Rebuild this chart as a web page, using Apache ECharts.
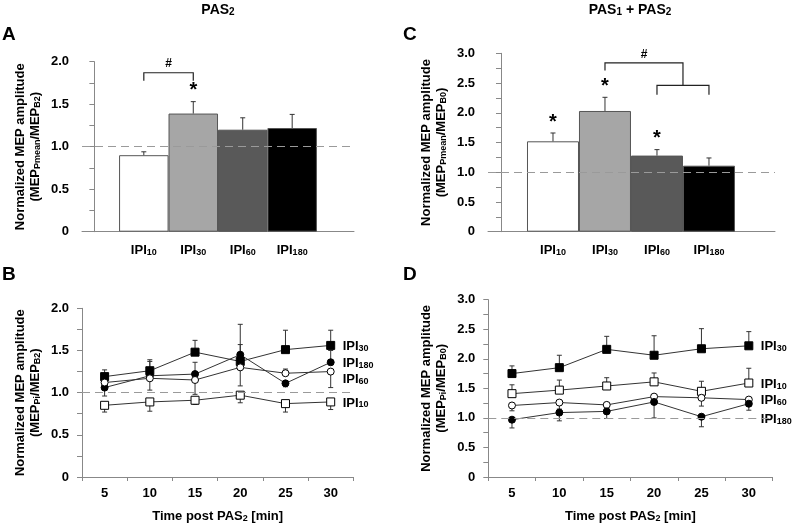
<!DOCTYPE html>
<html>
<head>
<meta charset="utf-8">
<script src="https://cdn.jsdelivr.net/npm/echarts@6/dist/echarts.min.js"></script>
<style>
  html, body { margin: 0; padding: 0; background: #fff; }
  #chart { width: 797px; height: 524px; }
</style>
</head>
<body>
<div id="chart"></div>
<script>
// bar panels (A: PAS2, C: PAS1 + PAS2)
const categories = ['IPI10', 'IPI30', 'IPI60', 'IPI180'];
const pas2Mean = [0.90, 1.39, 1.20, 1.22];
const pas2ErrTop = [0.94, 1.53, 1.34, 1.38];
const pas12Mean = [1.52, 2.03, 1.28, 1.11];
const pas12ErrTop = [1.66, 2.26, 1.38, 1.24];
const starsA = ['IPI30'];
const starsC = ['IPI10', 'IPI30', 'IPI60'];

// time course panels (B: PAS2, D: PAS1 + PAS2)
const times = ['5', '10', '15', '20', '25', '30'];
const bIPI30 = [1.19, 1.26, 1.48, 1.37, 1.51, 1.56];
const bIPI30Err = [1.27, 1.39, 1.62, 1.57, 1.74, 1.74];
const bIPI180 = [1.06, 1.20, 1.22, 1.45, 1.11, 1.36];
const bIPI180Err = [0.96, 1.37, 1.36, 1.81, 1.07, 1.50];
const bIPI60 = [1.12, 1.17, 1.15, 1.30, 1.23, 1.25];
const bIPI60Err = [1.12, 1.03, 0.98, 1.08, 1.28, 1.06];
const bIPI10 = [0.85, 0.89, 0.91, 0.97, 0.87, 0.89];
const bIPI10Err = [0.77, 0.78, 0.86, 0.88, 0.77, 0.80];

const dIPI30 = [1.75, 1.85, 2.16, 2.06, 2.17, 2.22];
const dIPI30Err = [1.88, 2.06, 2.38, 2.39, 2.51, 2.46];
const dIPI10 = [1.41, 1.47, 1.54, 1.61, 1.45, 1.59];
const dIPI10Err = [1.56, 1.64, 1.68, 1.76, 1.62, 1.84];
const dIPI60 = [1.21, 1.26, 1.22, 1.36, 1.34, 1.31];
const dIPI60Err = [1.12, 1.15, 1.17, 1.36, 1.20, 1.31];
const dIPI180 = [0.97, 1.09, 1.11, 1.27, 1.02, 1.24];
const dIPI180Err = [0.83, 0.95, 0.99, 1.00, 0.85, 1.13];

// significance brackets: [x1, x2, yBar, yLeg1, yLeg2] and '#' marks [x, y]
const bracketsA = [[1, 2, 1.87, 1.775, 1.775]];
const hashA = [[1.5, 1.98]];
const bracketsC = [[2, 3.5, 2.84, 2.71, 2.46], [3, 4, 2.46, 2.305, 2.305]];
const hashC = [[2.75, 2.98]];

const FONT = '"Liberation Sans", Arial, sans-serif';
const rich = {
  b: { fontFamily: FONT, fontWeight: 'bold', fontSize: 13, color: '#000', lineHeight: 15, verticalAlign: 'bottom' },
  s: { fontFamily: FONT, fontWeight: 'bold', fontSize: 9, color: '#000', lineHeight: 11, verticalAlign: 'bottom' }
};
const titleRich = {
  b: { fontFamily: FONT, fontWeight: 'bold', fontSize: 14, fill: '#000', lineHeight: 16, verticalAlign: 'bottom' },
  s: { fontFamily: FONT, fontWeight: 'bold', fontSize: 10, fill: '#000', lineHeight: 12, verticalAlign: 'bottom' }
};

function sub(name) {
  const m = name.match(/^(\D+)(\d+)$/);
  return '{b|' + m[1] + '}{s|' + m[2] + '}';
}

const axisColor = '#888';

function yAxis(gridIndex, max, denom) {
  return {
    type: 'value', gridIndex: gridIndex, min: 0, max: max, interval: 0.25,
    axisLine: { show: true, lineStyle: { color: axisColor } },
    axisTick: { show: true, length: 5, lineStyle: { color: axisColor } },
    splitLine: { show: false },
    axisLabel: {
      margin: 13, fontFamily: FONT, fontWeight: 'bold', fontSize: 13, color: '#000',
      formatter: function (v) {
        if (Math.abs(v * 2 - Math.round(v * 2)) > 1e-6) return '';
        return v === 0 ? '0' : v.toFixed(1);
      }
    },
    name: '{b|Normalized MEP amplitude}\n{b|(MEP}{s|' + denom[0] + '}{b|/MEP}{s|' + denom[1] + '}{b|)}',
    nameLocation: 'middle', nameRotate: 90, nameGap: 40,
    nameTextStyle: { rich: rich }
  };
}

function barXAxis(gridIndex, max) {
  return {
    type: 'value', gridIndex: gridIndex, min: -0.25, max: max,
    axisLine: { show: true, onZero: false, lineStyle: { color: axisColor } },
    axisTick: { show: false },
    splitLine: { show: false },
    axisLabel: {
      margin: 10, rich: rich,
      formatter: function (v) {
        const r = Math.round(v);
        if (Math.abs(v - r) > 1e-6 || r < 1 || r > categories.length) return '';
        return sub(categories[r - 1]);
      }
    }
  };
}

function timeXAxis(gridIndex) {
  return {
    type: 'category', gridIndex: gridIndex, data: times, boundaryGap: true,
    axisLine: { show: true, onZero: false, lineStyle: { color: axisColor } },
    axisTick: { show: true, length: 4, lineStyle: { color: axisColor } },
    splitLine: { show: false },
    axisLabel: { margin: 10, fontFamily: FONT, fontWeight: 'bold', fontSize: 13, color: '#000' },
    name: '{b|Time post PAS}{s|2}{b| [min]}',
    nameLocation: 'middle', nameGap: 31,
    nameTextStyle: { rich: rich }
  };
}

const dashLine = {
  silent: true, symbol: 'none', label: { show: false },
  lineStyle: { type: [8, 5], color: '#9a9a9a', width: 1 },
  data: [{ yAxis: 1 }]
};

function errRender(params, api) {
  const x = api.value(0);
  const p1 = api.coord([x, api.value(1)]);
  const p2 = api.coord([x, api.value(2)]);
  const style = { stroke: '#333', lineWidth: 1 };
  return {
    type: 'group',
    children: [
      { type: 'line', shape: { x1: p1[0], y1: p1[1], x2: p2[0], y2: p2[1] }, style: style },
      { type: 'line', shape: { x1: p2[0] - 2.5, y1: p2[1], x2: p2[0] + 2.5, y2: p2[1] }, style: style }
    ]
  };
}

function errSeries(xi, mean, top, xOf) {
  return {
    type: 'custom', xAxisIndex: xi, yAxisIndex: xi, z: 3, silent: true,
    renderItem: errRender,
    data: mean.map(function (v, i) { return [xOf(i), v, top[i]]; })
  };
}

function starSeries(xi, stars, top) {
  return {
    type: 'custom', xAxisIndex: xi, yAxisIndex: xi, z: 5, silent: true,
    renderItem: function (params, api) {
      const p = api.coord([api.value(0), api.value(1)]);
      return {
        type: 'text', x: p[0], y: p[1] - 11,
        style: { text: '*', font: 'bold 20px ' + FONT, fill: '#000', align: 'center', verticalAlign: 'middle' }
      };
    },
    data: stars.map(function (n) { const i = categories.indexOf(n); return [i + 1, top[i]]; })
  };
}

function bracketSeries(xi, brackets, hashes) {
  return [{
    type: 'custom', xAxisIndex: xi, yAxisIndex: xi, z: 5, silent: true,
    renderItem: function (params, api) {
      const a = api.coord([api.value(0), api.value(3)]);
      const b = api.coord([api.value(0), api.value(2)]);
      const c = api.coord([api.value(1), api.value(2)]);
      const d = api.coord([api.value(1), api.value(4)]);
      return {
        type: 'polyline', shape: { points: [a, b, c, d] },
        style: { stroke: '#222', lineWidth: 1.2, fill: null }
      };
    },
    data: brackets
  }, {
    type: 'custom', xAxisIndex: xi, yAxisIndex: xi, z: 5, silent: true,
    renderItem: function (params, api) {
      const p = api.coord([api.value(0), api.value(1)]);
      return {
        type: 'text', x: p[0], y: p[1],
        style: { text: '#', font: 'bold 12px ' + FONT, fill: '#000', align: 'center', verticalAlign: 'middle' }
      };
    },
    data: hashes
  }];
}

const barFill = ['#ffffff', '#a6a6a6', '#595959', '#000000'];

function barSeries(xi, mean, width) {
  return {
    type: 'bar', xAxisIndex: xi, yAxisIndex: xi, barWidth: width, z: 2,
    itemStyle: { borderColor: '#555', borderWidth: 1 },
    data: mean.map(function (v, i) { return { value: [i + 1, v], itemStyle: { color: barFill[i] } }; }),
    markLine: dashLine
  };
}

const markerStyle = {
  IPI30: { symbol: 'rect', symbolSize: 8, fill: '#000' },
  IPI10: { symbol: 'rect', symbolSize: 8, fill: '#fff' },
  IPI60: { symbol: 'circle', symbolSize: 7, fill: '#fff' },
  IPI180: { symbol: 'circle', symbolSize: 7, fill: '#000' }
};

function lineSeries(xi, name, values, offset, withMark) {
  const m = markerStyle[name];
  const s = {
    type: 'line', name: name, xAxisIndex: xi, yAxisIndex: xi, z: 4,
    data: values, symbol: m.symbol, symbolSize: m.symbolSize, showSymbol: true,
    itemStyle: { color: m.fill, borderColor: '#000', borderWidth: 1 },
    lineStyle: { color: '#333', width: 1 },
    endLabel: {
      show: true, distance: 12, offset: offset, rich: rich,
      formatter: function () { return sub(name); }
    },
    silent: true
  };
  if (withMark) s.markLine = dashLine;
  return s;
}

const idx = function (i) { return i; };
const pos = function (i) { return i + 1; };

const letterStyle = { fontFamily: FONT, fontWeight: 'bold', fontSize: 19, color: '#000' };

function headText(x, text) {
  return {
    type: 'text', x: x, y: 9, silent: true,
    style: { text: text, rich: titleRich, align: 'center', verticalAlign: 'middle', font: 'bold 14px ' + FONT, fill: '#000' }
  };
}

const option = {
  animation: false,
  backgroundColor: '#fff',
  graphic: [
    headText(218, '{b|PAS}{s|2}'),
    headText(630, '{b|PAS}{s|1}{b|\u00a0+\u00a0PAS}{s|2}')
  ],
  title: [
    { text: 'A', left: 2, top: 25, padding: 0, textStyle: letterStyle },
    { text: 'C', left: 403, top: 25, padding: 0, textStyle: letterStyle },
    { text: 'B', left: 2, top: 265, padding: 0, textStyle: letterStyle },
    { text: 'D', left: 403, top: 265, padding: 0, textStyle: letterStyle }
  ],
  grid: [
    { left: 82, top: 61.7, width: 272, height: 170 },
    { left: 488, top: 53.3, width: 287, height: 178.4 },
    { left: 82, top: 308.3, width: 271.3, height: 170 },
    { left: 488.3, top: 299.7, width: 284.2, height: 178.6 }
  ],
  xAxis: [
    barXAxis(0, 5.25),
    barXAxis(1, 5.27),
    timeXAxis(2),
    timeXAxis(3)
  ],
  yAxis: [
    yAxis(0, 2, ['Pmean', 'B2']),
    yAxis(1, 3, ['Pmean', 'B0']),
    yAxis(2, 2, ['Pi', 'B2']),
    yAxis(3, 3, ['Pi', 'B0'])
  ],
  series: [
    barSeries(0, pas2Mean, 49.5),
    errSeries(0, pas2Mean, pas2ErrTop, pos),
    starSeries(0, starsA, pas2ErrTop)
  ].concat(bracketSeries(0, bracketsA, hashA), [
    barSeries(1, pas12Mean, 52),
    errSeries(1, pas12Mean, pas12ErrTop, pos),
    starSeries(1, starsC, pas12ErrTop)
  ], bracketSeries(1, bracketsC, hashC), [
    errSeries(2, bIPI30, bIPI30Err, idx),
    errSeries(2, bIPI180, bIPI180Err, idx),
    errSeries(2, bIPI60, bIPI60Err, idx),
    errSeries(2, bIPI10, bIPI10Err, idx),
    lineSeries(2, 'IPI30', bIPI30, [0, 0], true),
    lineSeries(2, 'IPI180', bIPI180, [0, 0], false),
    lineSeries(2, 'IPI60', bIPI60, [0, 7], false),
    lineSeries(2, 'IPI10', bIPI10, [0, 0], false),
    errSeries(3, dIPI30, dIPI30Err, idx),
    errSeries(3, dIPI10, dIPI10Err, idx),
    errSeries(3, dIPI60, dIPI60Err, idx),
    errSeries(3, dIPI180, dIPI180Err, idx),
    lineSeries(3, 'IPI30', dIPI30, [0, 0], true),
    lineSeries(3, 'IPI10', dIPI10, [0, 0], false),
    lineSeries(3, 'IPI60', dIPI60, [0, 0], false),
    lineSeries(3, 'IPI180', dIPI180, [0, 15], false)
  ])
};

const chart = echarts.init(document.getElementById('chart'), null, { renderer: 'canvas' });
chart.setOption(option);
</script>
</body>
</html>
